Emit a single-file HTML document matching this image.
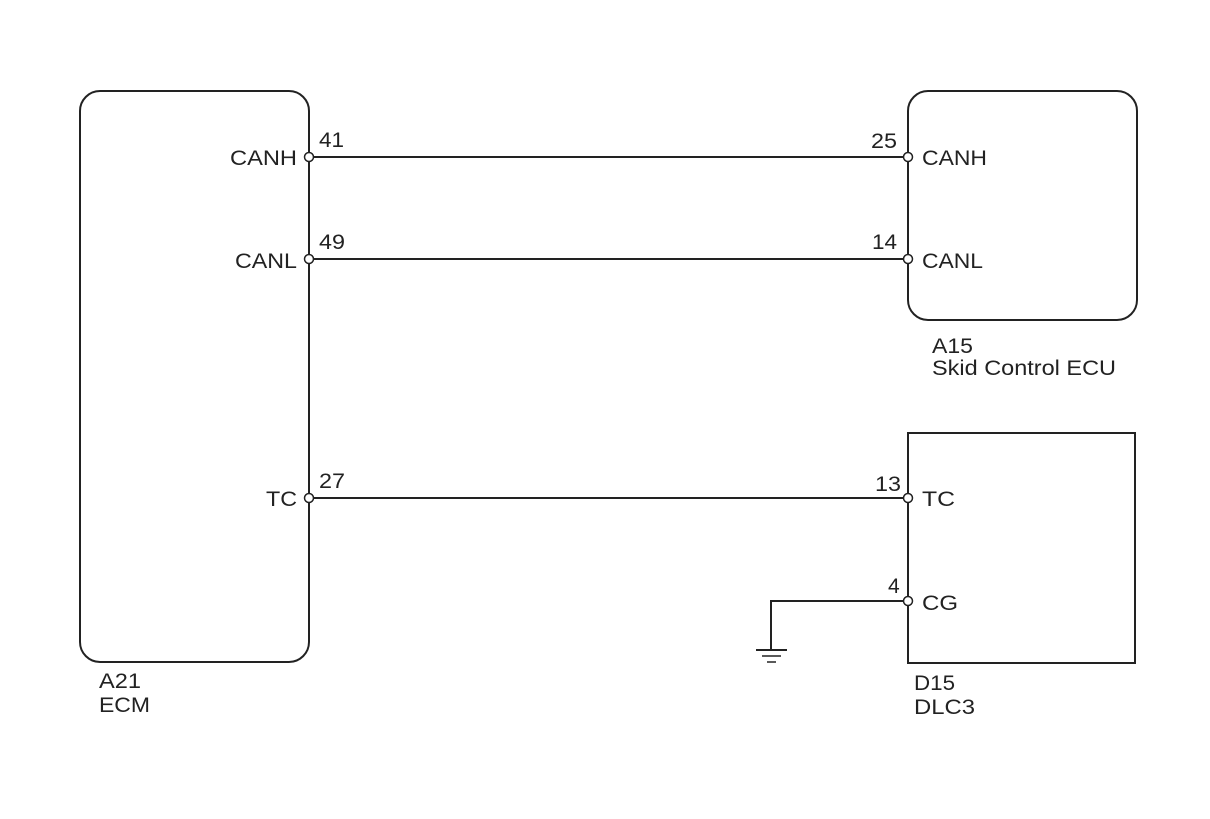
<!DOCTYPE html>
<html><head><style>body{margin:0;background:#fff}</style></head><body>
<svg width="1210" height="814" xmlns="http://www.w3.org/2000/svg" font-family="Liberation Sans, Arial, sans-serif" font-size="21" fill="#222">
<g stroke="#222" stroke-width="2" fill="none">
<rect x="80" y="91" width="229" height="571" rx="20"/>
<rect x="908" y="91" width="229" height="229" rx="20"/>
<rect x="908" y="433" width="227" height="230"/>
<line x1="309" y1="157" x2="908" y2="157"/>
<line x1="309" y1="259" x2="908" y2="259"/>
<line x1="309" y1="498" x2="908" y2="498"/>
<polyline points="908,601 771,601 771,650"/>
<line x1="756" y1="650" x2="787" y2="650"/>
<line x1="762" y1="656" x2="781" y2="656" stroke-width="1.5"/>
<line x1="767" y1="662" x2="776" y2="662" stroke-width="1.5"/>
</g>
<g stroke="#222" stroke-width="1.5" fill="#fff">
<circle cx="309" cy="157" r="4.5"/><circle cx="309" cy="259" r="4.5"/><circle cx="309" cy="498" r="4.5"/>
<circle cx="908" cy="157" r="4.5"/><circle cx="908" cy="259" r="4.5"/><circle cx="908" cy="498" r="4.5"/><circle cx="908" cy="601" r="4.5"/>
</g>
<g lengthAdjust="spacingAndGlyphs">
<text x="230" y="165" textLength="67" lengthAdjust="spacingAndGlyphs">CANH</text>
<text x="235" y="268" textLength="62" lengthAdjust="spacingAndGlyphs">CANL</text>
<text x="266" y="506" textLength="31" lengthAdjust="spacingAndGlyphs">TC</text>
<text x="871" y="148" textLength="26" lengthAdjust="spacingAndGlyphs">25</text>
<text x="872" y="249" textLength="25" lengthAdjust="spacingAndGlyphs">14</text>
<text x="875" y="491" textLength="26" lengthAdjust="spacingAndGlyphs">13</text>
<text x="888" y="593">4</text>
<text x="319" y="147" textLength="25" lengthAdjust="spacingAndGlyphs">41</text>
<text x="319" y="249" textLength="26" lengthAdjust="spacingAndGlyphs">49</text>
<text x="319" y="488" textLength="26" lengthAdjust="spacingAndGlyphs">27</text>
<text x="922" y="165" textLength="65" lengthAdjust="spacingAndGlyphs">CANH</text>
<text x="922" y="268" textLength="61" lengthAdjust="spacingAndGlyphs">CANL</text>
<text x="922" y="506" textLength="33" lengthAdjust="spacingAndGlyphs">TC</text>
<text x="922" y="610" textLength="36" lengthAdjust="spacingAndGlyphs">CG</text>
<text x="932" y="353" textLength="41" lengthAdjust="spacingAndGlyphs">A15</text>
<text x="932" y="375" textLength="184" lengthAdjust="spacingAndGlyphs">Skid Control ECU</text>
<text x="99" y="688" textLength="42" lengthAdjust="spacingAndGlyphs">A21</text>
<text x="99" y="712" textLength="51" lengthAdjust="spacingAndGlyphs">ECM</text>
<text x="914" y="690" textLength="41" lengthAdjust="spacingAndGlyphs">D15</text>
<text x="914" y="714" textLength="61" lengthAdjust="spacingAndGlyphs">DLC3</text>
</g>
</svg>
</body></html>
